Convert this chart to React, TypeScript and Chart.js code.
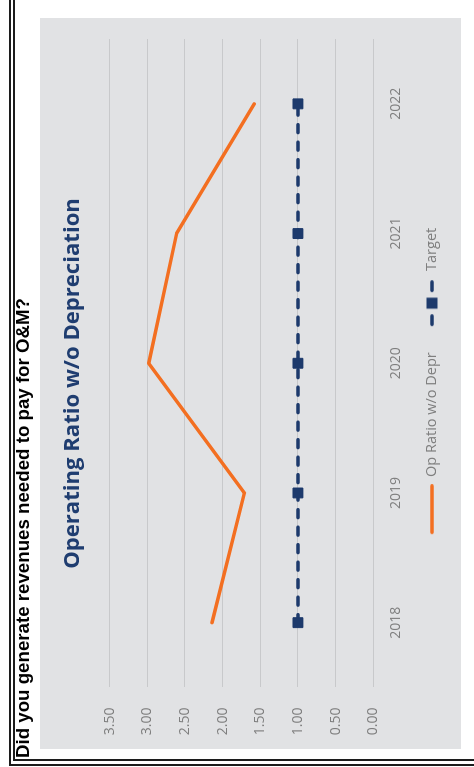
import React, { useEffect, useRef } from "react";
import { Chart, registerables } from "chart.js";

Chart.register(...registerables);

// Chart data
const years = ["2018", "2019", "2020", "2021", "2022"];
const opRatio = [2.14, 1.71, 2.98, 2.61, 1.58];
const target = [1.0, 1.0, 1.0, 1.0, 1.0];
const axisMin = 0;
const axisMax = 3.5;
const axisStep = 0.5;

const seriesNames = ["Op Ratio w/o Depr", "Target"];
const chartTitle = "Operating Ratio w/o Depreciation";
const headerText = "Did you generate revenues needed to pay for O&M?";

const ORANGE = "#F36F21";
const NAVY = "#1D3A6C";
const TITLE_BLUE = "#1F3D70";
const TEXT_GRAY = "#7F7F7F";
const GRID_GRAY = "#C8C9CB";
const PANEL_GRAY = "#E1E2E4";

const LEGEND_BOX = 64;

// Legend icon: plain orange stroke, right-aligned in its box
function makeLineIcon(): HTMLCanvasElement {
  const c = document.createElement("canvas");
  c.width = LEGEND_BOX;
  c.height = 6;
  const ctx = c.getContext("2d")!;
  ctx.strokeStyle = ORANGE;
  ctx.lineWidth = 3.5;
  ctx.lineCap = "round";
  ctx.beginPath();
  ctx.moveTo(15.75, 3);
  ctx.lineTo(62.25, 3);
  ctx.stroke();
  return c;
}

// Legend icon: dash, square marker, dash
function makeTargetIcon(): HTMLCanvasElement {
  const c = document.createElement("canvas");
  c.width = LEGEND_BOX;
  c.height = 12;
  const ctx = c.getContext("2d")!;
  const o = 16;
  ctx.strokeStyle = NAVY;
  ctx.fillStyle = NAVY;
  ctx.lineWidth = 3.5;
  ctx.lineCap = "round";
  ctx.beginPath();
  ctx.moveTo(o + 1.75, 6);
  ctx.lineTo(o + 10.25, 6);
  ctx.moveTo(o + 35.75, 6);
  ctx.lineTo(o + 44.25, 6);
  ctx.stroke();
  ctx.fillRect(o + 17.5, 0.5, 11, 11);
  return c;
}

// Nudges the title block sideways after layout
const titleNudge = {
  id: "titleNudge",
  afterLayout(chart: any) {
    const t = chart.titleBlock;
    if (t) {
      t.left += 4.5;
      t.right += 4.5;
    }
  },
};

export default function App() {
  const canvasRef = useRef<HTMLCanvasElement>(null);

  useEffect(() => {
    const canvas = canvasRef.current;
    if (!canvas) return;
    Chart.defaults.font.family = "'Open Sans', sans-serif";
    const icons = [makeLineIcon(), makeTargetIcon()];

    const chart = new Chart(canvas, {
      type: "line",
      data: {
        labels: years,
        datasets: [
          {
            label: seriesNames[0],
            data: opRatio,
            borderColor: ORANGE,
            backgroundColor: ORANGE,
            borderWidth: 3.5,
            borderCapStyle: "round",
            borderJoinStyle: "round",
            pointRadius: 0,
            tension: 0,
            fill: false,
          },
          {
            label: seriesNames[1],
            data: target,
            borderColor: NAVY,
            backgroundColor: NAVY,
            borderWidth: 3.5,
            borderDash: [8, 9.5],
            borderCapStyle: "round",
            pointStyle: "rect",
            pointRadius: 7,
            pointBorderWidth: 1,
            pointBackgroundColor: NAVY,
            pointBorderColor: NAVY,
            tension: 0,
            fill: false,
          },
        ],
      },
      plugins: [titleNudge],
      options: {
        responsive: false,
        animation: false,
        events: [],
        layout: { padding: { left: 12, right: 21, top: 0, bottom: 11.75 } },
        plugins: {
          title: {
            display: true,
            text: chartTitle,
            color: TITLE_BLUE,
            font: { family: "'Open Sans', sans-serif", size: 22.1, weight: "bold" },
            padding: { top: 19.5, bottom: 23.5 },
          },
          legend: {
            display: true,
            position: "bottom",
            labels: {
              usePointStyle: true,
              pointStyleWidth: LEGEND_BOX,
              padding: 10,
              color: TEXT_GRAY,
              font: { size: 14.5 },
              generateLabels: () =>
                seriesNames.map((name, i) => ({
                  text: name,
                  datasetIndex: i,
                  hidden: false,
                  pointStyle: icons[i],
                  fillStyle: i === 0 ? ORANGE : NAVY,
                  strokeStyle: i === 0 ? ORANGE : NAVY,
                  lineWidth: 0,
                  fontColor: TEXT_GRAY,
                })),
            },
          },
          tooltip: { enabled: false },
        },
        scales: {
          x: {
            offset: true,
            grid: { display: false, drawTicks: false },
            border: { display: false },
            ticks: {
              color: TEXT_GRAY,
              font: { size: 14 },
              padding: 14,
              maxRotation: 0,
              autoSkip: false,
            },
            afterFit: (scale: any) => {
              scale.height = 41.45;
            },
          },
          y: {
            min: axisMin,
            max: axisMax,
            grid: { color: GRID_GRAY, lineWidth: 1, drawTicks: false },
            border: { display: false },
            ticks: {
              stepSize: axisStep,
              color: TEXT_GRAY,
              font: { size: 14 },
              padding: 20,
              callback: (v: any) => Number(v).toFixed(2),
            },
            afterFit: (scale: any) => {
              scale.width = 49.5;
            },
          },
        },
      },
    });

    return () => chart.destroy();
  }, []);

  return (
    <div
      style={{
        position: "fixed",
        left: 0,
        top: 0,
        width: 767,
        height: 474,
        background: "#ffffff",
        overflow: "hidden",
        transformOrigin: "0 0",
        transform: "translate(0px, 767px) rotate(-90deg)",
      }}
    >
      <div
        style={{
          position: "absolute",
          left: 1,
          top: 9,
          width: 800,
          height: 500,
          borderTop: "2px solid #1c1c1c",
          borderLeft: "2px solid #1c1c1c",
        }}
      />
      <div
        style={{
          position: "absolute",
          left: 6,
          top: 13,
          width: 800,
          height: 500,
          borderTop: "2px solid #1c1c1c",
          borderLeft: "2px solid #1c1c1c",
        }}
      />
      <div
        style={{
          position: "absolute",
          left: 9,
          top: 13.6,
          font: "bold 18.7px 'Liberation Sans', Arial, sans-serif",
          lineHeight: 1,
          whiteSpace: "nowrap",
          color: "#000000",
        }}
      >
        {headerText}
      </div>
      <canvas
        ref={canvasRef}
        width={731}
        height={421}
        style={{
          position: "absolute",
          left: 18,
          top: 40,
          width: 731,
          height: 421,
          display: "block",
          background: PANEL_GRAY,
        }}
      />
    </div>
  );
}
